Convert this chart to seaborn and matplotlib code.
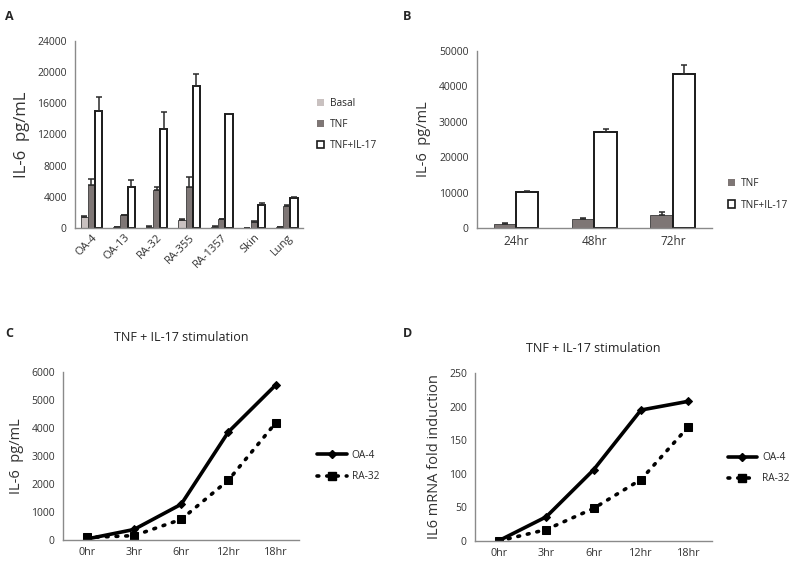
import numpy as np
import pandas as pd
import matplotlib
matplotlib.use("Agg")
import matplotlib.pyplot as plt
import seaborn as sns
from matplotlib.patches import Patch
from matplotlib.lines import Line2D

# panel A: IL-6 production by fibroblast lines
cells = ["OA-4", "OA-13", "RA-32", "RA-355", "RA-1357", "Skin", "Lung"]
basal = [1400, 50, 150, 1000, 150, 0, 50]
basal_err = [80, 20, 30, 100, 30, 0, 20]
tnf = [5550, 1600, 4800, 5200, 1100, 800, 2800]
tnf_err = [700, 100, 400, 1300, 100, 50, 200]
tnf_il17 = [15000, 5200, 12700, 18200, 14600, 3000, 3900]
tnf_il17_err = [1850, 900, 2200, 1500, 60, 150, 100]

# panel B: time course of IL-6 protein
times_b = ["24hr", "48hr", "72hr"]
tnf_b = [1200, 2550, 3650]
tnf_b_err = [100, 250, 700]
tnf_il17_b = [10050, 27050, 43600]
tnf_il17_b_err = [450, 800, 2600]

# panels C, D: short time course
times_cd = ["0hr", "3hr", "6hr", "12hr", "18hr"]
oa4_c = [40, 380, 1280, 3860, 5530]
ra32_c = [95, 160, 740, 2140, 4180]
oa4_d = [0.5, 36, 106, 195, 208]
ra32_d = [0, 17, 48.5, 91.5, 170]

sns.set_style("white")
plt.rcParams["font.family"] = ["Open Sans", "DejaVu Sans"]

AXIS_GREY = "#8a8a8a"
C_BASAL = "#c9c1c0"
C_TNF = "#7e7675"


def style_axes(ax, n):
    sns.despine(ax=ax)
    for s in ("left", "bottom"):
        ax.spines[s].set_color(AXIS_GREY)
        ax.spines[s].set_linewidth(1.0)
    ax.set_xlim(-0.5, n - 0.5)
    ax.set_xticks(np.arange(n + 1) - 0.5)
    ax.set_xticklabels([])
    ax.tick_params(axis="x", which="major", length=4, color=AXIS_GREY, width=1, direction="out")
    ax.tick_params(axis="y", length=4, color=AXIS_GREY, width=1, direction="out", labelsize=7.5, pad=2,
                   labelcolor="#333333")
    ax.tick_params(axis="x", which="minor", length=0)
    ax.set_xlabel("")


def bar_panel(ax, cats, series, errs, names, colors, width):
    rows = []
    for name, vals in zip(names, series):
        for c, v in zip(cats, vals):
            rows.append({"cat": c, "group": name, "value": v})
    df = pd.DataFrame(rows)
    sns.barplot(data=df, x="cat", y="value", hue="group", hue_order=names, order=cats,
                palette=colors, width=width, ax=ax, legend=False, errorbar=None,
                saturation=1, edgecolor="#3a3a3a", linewidth=0.6)
    for cont, err, col in zip(ax.containers, errs, colors):
        xs, ys = [], []
        for p in cont.patches:
            xs.append(p.get_x() + p.get_width() / 2)
            ys.append(p.get_height())
            if col == "white":
                p.set_edgecolor("#1a1a1a")
                p.set_linewidth(1.4)
        ax.errorbar(xs, ys, yerr=[np.zeros(len(err)), err], fmt="none", ecolor="#2a2a2a",
                    elinewidth=1.1, capsize=2.2, capthick=1.1)


fig = plt.figure(figsize=(8, 5.74), dpi=100)

# ---- A
axA = fig.add_axes([0.094, 0.603, 0.285, 0.3256])
bar_panel(axA, cells, [basal, tnf, tnf_il17], [basal_err, tnf_err, tnf_il17_err],
          ["Basal", "TNF", "TNF+IL-17"], [C_BASAL, C_TNF, "white"], 0.66)
style_axes(axA, len(cells))
axA.set_ylim(0, 24000)
axA.set_yticks(np.arange(0, 24001, 4000))
axA.set_xticks(np.arange(len(cells)), cells, minor=True, rotation=45, ha="right",
               rotation_mode="anchor", fontsize=8, color="#333333")
axA.tick_params(axis="x", which="minor", pad=3)
axA.set_ylabel("IL-6  pg/mL", fontsize=12, color="#333333", labelpad=5)
axA.legend(handles=[Patch(facecolor=C_BASAL, edgecolor="none"),
                    Patch(facecolor=C_TNF, edgecolor="none"),
                    Patch(facecolor="white", edgecolor="#1a1a1a", linewidth=1.2)],
           labels=["Basal", "TNF", "TNF+IL-17"], frameon=False, fontsize=7.3,
           loc="upper left", bbox_to_anchor=(0.385, 0.845), bbox_transform=fig.transFigure,
           handlelength=0.7, handleheight=0.7, handletextpad=0.6, labelspacing=1.0)

# ---- B
axB = fig.add_axes([0.596, 0.603, 0.294, 0.308])
bar_panel(axB, times_b, [tnf_b, tnf_il17_b], [tnf_b_err, tnf_il17_b_err],
          ["TNF", "TNF+IL-17"], [C_TNF, "white"], 0.57)
style_axes(axB, len(times_b))
axB.set_ylim(0, 50000)
axB.set_yticks(np.arange(0, 50001, 10000))
axB.set_xticks(np.arange(len(times_b)), times_b, minor=True, fontsize=8.5, color="#333333")
axB.tick_params(axis="x", which="minor", pad=5)
axB.set_ylabel("IL-6  pg/mL", fontsize=10.5, color="#333333", labelpad=6)
axB.legend(handles=[Patch(facecolor=C_TNF, edgecolor="none"),
                    Patch(facecolor="white", edgecolor="#1a1a1a", linewidth=1.2)],
           labels=["TNF", "TNF+IL-17"], frameon=False, fontsize=7.3,
           loc="upper left", bbox_to_anchor=(0.898, 0.705), bbox_transform=fig.transFigure,
           handlelength=0.7, handleheight=0.7, handletextpad=0.6, labelspacing=1.0)


def line_panel(ax, oa, ra, ylim, step, ylabel, leg_xy, title_pad):
    x = np.arange(len(times_cd))
    sns.lineplot(x=x, y=oa, ax=ax, color="black", linewidth=2.6, marker="D", markersize=4,
                 markeredgecolor="black", sort=False)
    sns.lineplot(x=x, y=ra, ax=ax, color="black", linewidth=2.6, linestyle=(0, (0.5, 2.2)),
                 dash_capstyle="round", marker="s", markersize=6, markeredgecolor="black", sort=False)
    style_axes(ax, len(times_cd))
    ax.set_ylim(*ylim)
    ax.set_yticks(np.arange(ylim[0], ylim[1] + 1, step))
    ax.set_xticks(x, times_cd, minor=True, fontsize=7.8, color="#333333")
    ax.tick_params(axis="x", which="minor", pad=5)
    ax.set_ylabel(ylabel, fontsize=10.5, color="#333333", labelpad=5)
    ax.set_title("TNF + IL-17 stimulation", fontsize=9, color="#222222", pad=title_pad)
    ax.legend(handles=[Line2D([], [], color="black", lw=2.6, marker="D", markersize=4),
                       Line2D([], [], color="black", lw=2.6, linestyle=(0, (0.5, 2.2)),
                              dash_capstyle="round", marker="s", markersize=6)],
              labels=["OA-4", "RA-32"], frameon=False, fontsize=7.3, loc="upper left",
              bbox_to_anchor=leg_xy, bbox_transform=fig.transFigure,
              handlelength=2.9, handletextpad=0.5, labelspacing=1.0)


# ---- C
axC = fig.add_axes([0.079, 0.059, 0.295, 0.293])
line_panel(axC, oa4_c, ra32_c, (0, 6000), 1000, "IL-6  pg/mL", (0.385, 0.232), 22)

# ---- D
axD = fig.add_axes([0.594, 0.0575, 0.296, 0.2925])
line_panel(axD, oa4_d, ra32_d, (0, 250), 50, "IL6 mRNA fold induction", (0.898, 0.228), 15)

for label, (x, y) in zip("ABCD", [(0.006, 0.982), (0.503, 0.982), (0.006, 0.43), (0.503, 0.43)]):
    fig.text(x, y, label, fontsize=9, fontweight="bold", va="top", ha="left")

fig.savefig("out.png", dpi=100)
